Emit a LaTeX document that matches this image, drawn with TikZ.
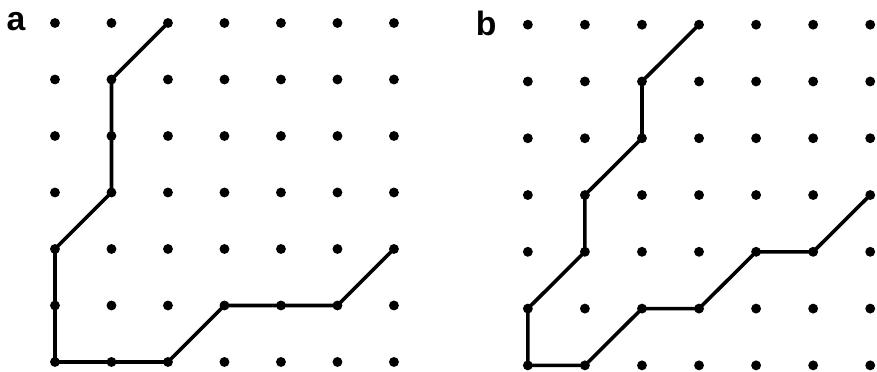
\documentclass[tikz,border=0pt]{standalone}
\usepackage{fontspec}
\setmainfont{Liberation Sans}
\begin{document}
\begin{tikzpicture}[x=1cm,y=1cm,
  dot/.style={circle,fill=black,inner sep=0pt,minimum size=0.175cm},
  route/.style={line width=1.8pt,line join=round,line cap=round},
  panel/.style={font=\fontsize{17}{17}\selectfont\bfseries}]
  \useasboundingbox (-0.973,0.407) rectangle (14.55,-6.16);
  % grid a
  \foreach \i in {0,...,6}
    \foreach \j in {0,...,6}
      \node[dot] (a-\i-\j) at (\i,-\j) {};
  \node[panel] (lbla) at (-0.69,0.02) {a};
  \draw[route] (a-2-0.center) -- (a-1-1.center) -- (a-1-2.center) -- (a-1-3.center)
    -- (a-0-4.center) -- (a-0-5.center) -- (a-0-6.center) -- (a-1-6.center)
    -- (a-2-6.center) -- (a-3-5.center) -- (a-4-5.center) -- (a-5-5.center)
    -- (a-6-4.center);
  % grid b
  \begin{scope}[shift={(8.37,-0.03)},x=1.01cm,y=1.005cm]
    \foreach \i in {0,...,6}
      \foreach \j in {0,...,6}
        \node[dot] (b-\i-\j) at (\i,-\j) {};
    \node[panel] (lblb) at (-0.73,0.03) {b};
    \draw[route] (b-3-0.center) -- (b-2-1.center) -- (b-2-2.center) -- (b-1-3.center)
      -- (b-1-4.center) -- (b-0-5.center) -- (b-0-6.center) -- (b-1-6.center)
      -- (b-2-5.center) -- (b-3-5.center) -- (b-4-4.center) -- (b-5-4.center)
      -- (b-6-3.center);
  \end{scope}
\end{tikzpicture}
\end{document}
